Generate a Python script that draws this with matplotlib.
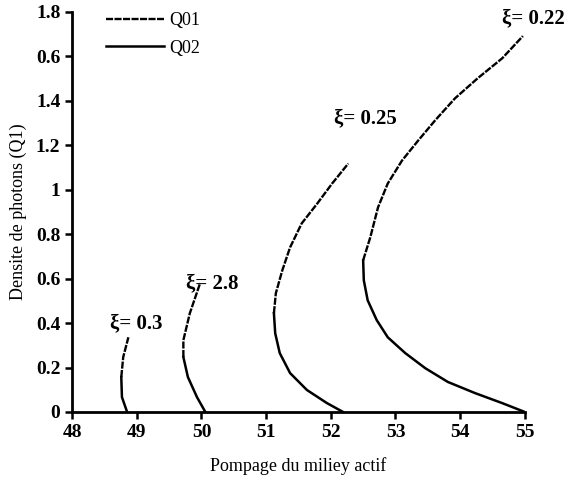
import matplotlib
matplotlib.use("Agg")
import matplotlib.pyplot as plt

# --- datos ---
# xi = 0.22
x022_q01 = [52.50, 52.61, 52.73, 52.88, 53.10, 53.35, 53.61, 53.92, 54.27, 54.65, 54.97]
y022_q01 = [0.682, 0.785, 0.92, 1.027, 1.13, 1.22, 1.31, 1.41, 1.50, 1.59, 1.69]
x022_q02 = [55.0, 54.65, 54.23, 53.81, 53.46, 53.15, 52.88, 52.71, 52.57, 52.51, 52.50]
y022_q02 = [0.0, 0.040, 0.085, 0.135, 0.197, 0.265, 0.336, 0.413, 0.502, 0.592, 0.682]
# xi = 0.25
x025_q01 = [51.12, 51.15, 51.25, 51.37, 51.55, 51.79, 52.02, 52.27]
y025_q01 = [0.444, 0.534, 0.637, 0.74, 0.848, 0.937, 1.027, 1.117]
x025_q02 = [52.19, 51.94, 51.63, 51.37, 51.21, 51.14, 51.12]
y025_q02 = [0.0, 0.04, 0.099, 0.175, 0.265, 0.354, 0.444]
# xi = 2.8
x28_q01 = [49.72, 49.72, 49.82, 49.98]
y28_q01 = [0.247, 0.323, 0.444, 0.58]
x28_q02 = [50.06, 49.93, 49.79, 49.72]
y28_q02 = [0.0, 0.067, 0.157, 0.247]
# xi = 0.3
x03_q01 = [48.76, 48.79, 48.87]
y03_q01 = [0.157, 0.247, 0.336]
x03_q02 = [48.85, 48.77, 48.76]
y03_q02 = [0.0, 0.067, 0.157]

etiquetas = ["\u03be= 0.22", "\u03be= 0.25", "\u03be= 2.8", "\u03be= 0.3"]
etiq_x = [55.13, 52.53, 50.16, 48.99]
etiq_y = [1.77, 1.32, 0.58, 0.40]

yticks = [0, 0.2, 0.4, 0.6, 0.8, 1.0, 1.2, 1.4, 1.6, 1.8]
ytick_labels = ["0", "0.2", "0.4", "0.6", "0.8", "1", "1.2", "1.4", "0.6", "1.8"]
xticks = [48, 49, 50, 51, 52, 53, 54, 55]

plt.rcParams['font.family'] = ['Liberation Serif', 'DejaVu Serif']

fig = plt.figure(figsize=(5.68, 4.83), dpi=100)
ax = fig.add_axes([0.127, 0.147, 0.797, 0.829])

estilo_q01 = dict(color='black', lw=1.7, linestyle=(0, (3, 0.6)), dash_joinstyle='round')
estilo_q02 = dict(color='black', lw=1.8, linestyle='-', solid_joinstyle='round')

ax.plot(x022_q01, y022_q01, label='Q01', **estilo_q01)
ax.plot(x022_q02, y022_q02, label='Q02', **estilo_q02)
ax.plot(x025_q01, y025_q01, **estilo_q01)
ax.plot(x025_q02, y025_q02, **estilo_q02)
ax.plot(x28_q01, y28_q01, **estilo_q01)
ax.plot(x28_q02, y28_q02, **estilo_q02)
ax.plot(x03_q01, y03_q01, **estilo_q01)
ax.plot(x03_q02, y03_q02, **estilo_q02)

for txt, tx, ty in zip(etiquetas, etiq_x, etiq_y):
    ax.text(tx, ty, txt, ha='center', va='center', fontsize=15, fontweight='bold')

ax.set_xlim(48, 55)
ax.set_ylim(0, 1.8)
ax.set_xticks(xticks)
ax.set_xticklabels([str(v) for v in xticks])
ax.set_yticks(yticks)
ax.set_yticklabels(ytick_labels)
ax.tick_params(direction='out', length=5, width=1.8, labelsize=14)
for lab in ax.get_xticklabels() + ax.get_yticklabels():
    lab.set_fontweight('bold')

for lado in ['top', 'right']:
    ax.spines[lado].set_visible(False)
for lado in ['left', 'bottom']:
    ax.spines[lado].set_linewidth(2)

ax.set_xlabel("Pompage du miliey actif", fontsize=13, labelpad=12)
ax.set_ylabel("Densite de photons (Q1)", fontsize=13, labelpad=6)

ax.legend(loc='upper left', bbox_to_anchor=(0.04, 1.04), frameon=False,
          fontsize=13, handlelength=3.2, handletextpad=0.3, labelspacing=0.6)

fig.savefig("out.png", dpi=100)
